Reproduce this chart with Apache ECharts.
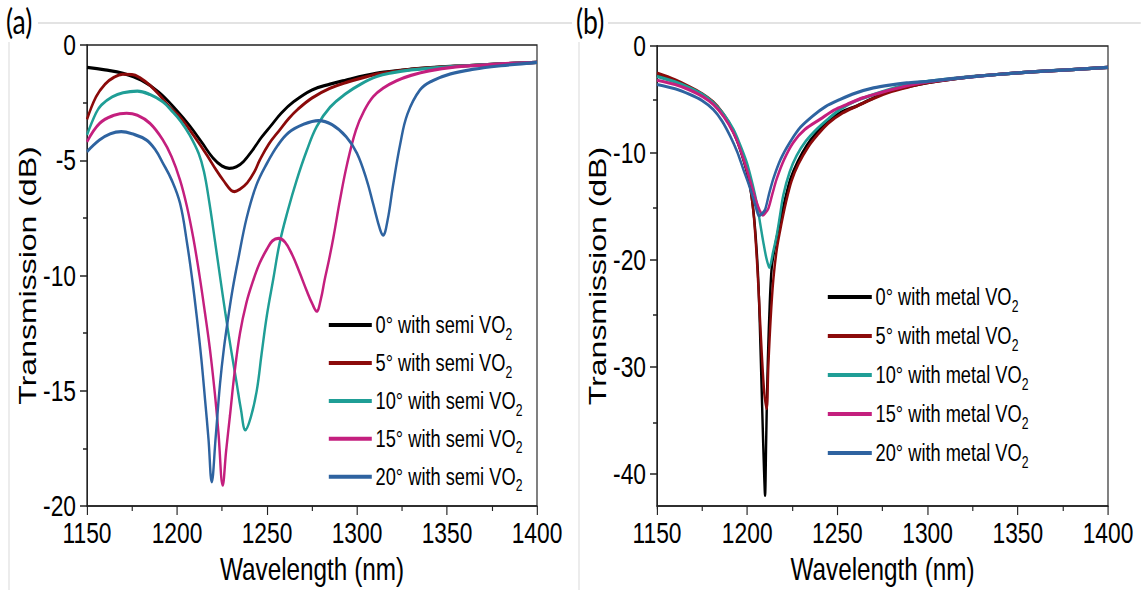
<!DOCTYPE html>
<html>
<head>
<meta charset="utf-8">
<script src="https://cdn.jsdelivr.net/npm/echarts@6/dist/echarts.min.js"></script>
<style>
html,body{margin:0;padding:0;background:#fff;overflow:hidden;}
#wrap{width:1141px;height:590px;overflow:hidden;position:relative;}
#c{position:absolute;left:0;top:0;height:590px;transform-origin:0 0;}
</style>
</head>
<body>
<div id="wrap"><div id="c"></div></div>
<script>
// ---- data (wavelength nm, transmission dB) ----
const xTicks = [1150, 1200, 1250, 1300, 1350, 1400];
const yTicksA = [0, -5, -10, -15, -20];
const yTicksB = [0, -10, -20, -30, -40];
const yMinorB = [-5, -15, -25, -35];

const namesA = ['0° with semi VO2', '5° with semi VO2', '10° with semi VO2', '15° with semi VO2', '20° with semi VO2'];
const namesB = ['0° with metal VO2', '5° with metal VO2', '10° with metal VO2', '15° with metal VO2', '20° with metal VO2'];

const semi0 = [[1150,-0.97],[1160,-1.08],[1170,-1.23],[1180,-1.52],[1190,-2.05],[1200,-2.85],[1207,-3.5],[1214,-4.25],[1220,-4.9],[1225,-5.25],[1229,-5.35],[1233,-5.28],[1237,-5.05],[1242,-4.56],[1247,-4.0],[1252,-3.52],[1258,-2.95],[1265,-2.45],[1275,-1.95],[1285,-1.7],[1294,-1.52],[1305,-1.32],[1315,-1.18],[1330,-1.05],[1345,-0.96],[1360,-0.9],[1380,-0.82],[1400,-0.75]];
const semi5 = [[1150,-3.23],[1155,-2.25],[1160,-1.7],[1165,-1.4],[1170,-1.27],[1175,-1.28],[1180,-1.45],[1185,-1.75],[1190,-2.15],[1196,-2.7],[1202,-3.15],[1209,-3.9],[1216,-4.7],[1222,-5.45],[1226,-5.9],[1230,-6.3],[1232,-6.36],[1235,-6.25],[1239,-5.98],[1243,-5.5],[1246,-4.99],[1251,-4.3],[1257,-3.69],[1262,-3.2],[1267,-2.8],[1275,-2.3],[1285,-1.88],[1295,-1.6],[1305,-1.38],[1313,-1.23],[1325,-1.1],[1340,-0.99],[1360,-0.9],[1380,-0.82],[1400,-0.75]];
const semi10 = [[1150,-3.9],[1155,-2.95],[1158,-2.6],[1164,-2.25],[1170,-2.07],[1178,-2.0],[1185,-2.15],[1192,-2.46],[1197,-2.85],[1202,-3.3],[1207,-3.9],[1212,-4.7],[1215,-5.5],[1218,-6.85],[1221,-8.45],[1224,-10.1],[1227,-11.7],[1230,-13.2],[1233,-14.6],[1235.5,-15.8],[1238,-16.7],[1241,-16.15],[1244.3,-15.0],[1247,-13.4],[1250,-11.7],[1253.5,-10.15],[1257,-8.6],[1261.5,-7.2],[1266.5,-5.86],[1272,-4.6],[1277.6,-3.54],[1285,-2.7],[1294,-2.1],[1302,-1.7],[1311,-1.37],[1320,-1.2],[1330,-1.08],[1345,-0.98],[1360,-0.9],[1380,-0.82],[1400,-0.75]];
const semi15 = [[1150,-4.2],[1157,-3.4],[1165,-3.05],[1172,-2.96],[1178,-3.05],[1185,-3.4],[1192,-4.1],[1197,-4.85],[1201.7,-5.86],[1205.5,-7.0],[1209,-8.35],[1212.5,-10.0],[1215.5,-11.6],[1218.3,-13.2],[1221,-15.1],[1223,-16.8],[1225.4,-19.1],[1227.3,-17.6],[1229.4,-16.1],[1232,-14.2],[1235,-12.5],[1238.5,-11.2],[1242.4,-10.2],[1246,-9.45],[1250,-8.85],[1253,-8.5],[1256.3,-8.39],[1260,-8.55],[1264,-9.1],[1268,-9.85],[1272,-10.65],[1275,-11.2],[1277.6,-11.55],[1280,-11.0],[1282,-10.2],[1284.5,-9.3],[1287,-8.3],[1290.6,-6.7],[1294.4,-5.2],[1299.4,-3.69],[1304,-2.85],[1309,-2.24],[1315,-1.85],[1322,-1.55],[1330,-1.32],[1340,-1.12],[1355,-0.95],[1370,-0.87],[1385,-0.8],[1400,-0.75]];
const semi20 = [[1150,-4.63],[1157,-4.12],[1163,-3.85],[1169,-3.76],[1175,-3.85],[1183,-4.12],[1188,-4.55],[1192,-5.1],[1197,-5.85],[1201.7,-6.87],[1205.5,-8.55],[1208.5,-10.2],[1211,-11.8],[1213.5,-13.6],[1215.6,-15.4],[1217.5,-17.1],[1219.3,-18.95],[1221.5,-17.0],[1223.9,-14.7],[1226,-13.2],[1228.5,-11.8],[1231,-10.55],[1234,-9.3],[1238.7,-7.5],[1244,-6.1],[1250,-5.13],[1256,-4.35],[1262,-3.8],[1270,-3.45],[1278.6,-3.28],[1286,-3.45],[1294,-3.98],[1300,-4.7],[1305.4,-5.86],[1309,-6.9],[1312.8,-8.0],[1314.5,-8.25],[1317,-7.6],[1320,-6.1],[1324,-4.3],[1328,-3.0],[1335,-1.95],[1342,-1.55],[1352,-1.25],[1365,-1.05],[1380,-0.9],[1400,-0.75]];

const metal0 = [[1150,-2.7],[1160,-3.3],[1168,-3.95],[1175,-4.6],[1181,-5.35],[1186,-6.3],[1190,-7.3],[1194,-8.7],[1198,-10.7],[1201,-12.6],[1203.5,-15.5],[1205.2,-19.0],[1206.3,-22.5],[1207.5,-29.0],[1208.5,-35.0],[1209.3,-39.5],[1209.9,-42.0],[1210.5,-37.0],[1211.2,-31.0],[1212.3,-25.0],[1213.6,-20.7],[1216,-18.2],[1218.5,-16.2],[1221,-14.3],[1224,-12.4],[1228,-10.8],[1233,-9.3],[1238,-8.2],[1244,-7.16],[1252,-6.2],[1260.7,-5.6],[1270,-4.85],[1279,-4.2],[1290,-3.75],[1300,-3.42],[1320,-2.95],[1340,-2.64],[1360,-2.4],[1380,-2.2],[1400,-2.0]];
const metal5 = [[1150,-2.53],[1160,-3.15],[1168,-3.8],[1175,-4.45],[1181,-5.2],[1186,-6.15],[1190,-7.2],[1194,-8.6],[1198,-10.6],[1201,-12.5],[1203.5,-15.6],[1205.2,-19.5],[1206.5,-23.5],[1208,-28.5],[1209.5,-32.5],[1210.8,-33.9],[1211.7,-30.0],[1213,-25.5],[1214.5,-21.8],[1216.5,-18.9],[1219,-16.6],[1221.5,-14.6],[1224.6,-12.6],[1228.5,-11.0],[1233.9,-9.4],[1239,-8.3],[1245,-7.2],[1253,-6.25],[1261,-5.6],[1270,-4.9],[1280,-4.25],[1290,-3.8],[1300,-3.42],[1320,-2.95],[1340,-2.64],[1360,-2.4],[1380,-2.2],[1400,-2.0]];
const metal10 = [[1150,-2.84],[1160,-3.35],[1168.3,-3.92],[1175,-4.5],[1181.2,-5.3],[1187,-6.4],[1192.3,-7.78],[1196,-9.2],[1199.7,-10.86],[1202.5,-12.6],[1205.2,-14.6],[1207.2,-16.6],[1208.9,-18.3],[1210.6,-19.8],[1212.3,-20.7],[1214.3,-19.3],[1216.4,-17.65],[1218.2,-15.8],[1220,-13.95],[1223.5,-11.8],[1227.4,-10.25],[1232.5,-8.9],[1238.5,-7.78],[1245,-6.8],[1251.4,-5.93],[1260,-5.15],[1270,-4.54],[1280,-4.0],[1288.4,-3.6],[1300,-3.3],[1325.4,-2.84],[1345,-2.58],[1362,-2.37],[1380,-2.2],[1400,-2.0]];
const metal15 = [[1150,-3.2],[1160,-3.6],[1168,-4.1],[1175,-4.7],[1181.2,-5.46],[1187,-6.6],[1192.3,-8.1],[1196,-9.6],[1199.7,-11.5],[1202.5,-13.1],[1205.2,-14.6],[1207,-15.4],[1208.6,-15.8],[1210,-15.6],[1211.7,-15.2],[1214,-13.8],[1216.4,-12.4],[1220.5,-10.6],[1225.6,-9.0],[1232,-7.8],[1240.4,-6.85],[1248,-6.0],[1255.2,-5.46],[1264,-4.85],[1273.6,-4.38],[1282,-4.0],[1292,-3.6],[1300,-3.35],[1320,-2.95],[1340,-2.64],[1360,-2.4],[1380,-2.2],[1400,-2.0]];
const metal20 = [[1150,-3.6],[1160,-4.0],[1168.3,-4.54],[1175,-5.1],[1181.2,-5.93],[1186,-7.0],[1190.5,-8.4],[1194.5,-9.9],[1197.8,-11.5],[1201,-13.0],[1203.4,-14.26],[1205,-15.2],[1206.5,-15.86],[1208,-15.7],[1209.9,-15.3],[1212,-13.9],[1214.5,-12.4],[1218.5,-10.6],[1223.7,-9.0],[1229.5,-7.6],[1236.6,-6.5],[1243.5,-5.65],[1251.4,-5.0],[1260,-4.4],[1270,-3.92],[1279,-3.65],[1288.4,-3.45],[1300,-3.3],[1320,-2.95],[1340,-2.64],[1360,-2.4],[1380,-2.2],[1400,-2.0]];

const colors = ['#000000', '#8b0a0a', '#1f9e96', '#c41f7e', '#2e63a0'];

// ---- layout (reference image is horizontally compressed; emulate with scaleX) ----
const S = 0.76;
const X = px => px / S;
const W = Math.round(1141 / S);
const el = document.getElementById('c');
el.style.width = W + 'px';
el.style.transform = 'scaleX(' + S + ')';

const FONT = "'Liberation Sans', Arial, sans-serif";
const axisColor = '#222';

function xAxisCfg(grid) {
  return {
    gridIndex: grid, type: 'value', min: 1150, max: 1400, interval: 50,
    name: 'Wavelength (nm)', nameLocation: 'middle', nameGap: 46,
    nameTextStyle: {fontSize: 32, color: '#000', fontFamily: FONT},
    axisLine: {show: true, onZero: false, lineStyle: {color: axisColor, width: 1.5}},
    axisTick: {show: true, length: 9, lineStyle: {color: axisColor, width: 1.5}},
    minorTick: {show: true, splitNumber: 2, length: 5, lineStyle: {color: axisColor, width: 1.5}},
    axisLabel: {fontSize: 30, color: '#000', fontFamily: FONT, margin: 12,
      customValues: xTicks, formatter: v => String(v)},
    splitLine: {show: false}
  };
}

const gridB = {left: X(657), top: 46, width: X(451), height: 463};
const grids = [
  {left: X(87), top: 45, width: X(450), height: 461, show: true, borderColor: axisColor, borderWidth: 1.5},
  Object.assign({show: true, borderColor: axisColor, borderWidth: 1.5}, gridB),
  Object.assign({show: false}, gridB)   // overlay grid carrying the minor ticks of panel (b)
];

const yName = {
  name: 'Transmission (dB)', nameLocation: 'middle', nameRotate: 90, nameGap: X(44),
  nameTextStyle: {fontSize: 32, color: '#000', fontFamily: FONT}
};

const yAxes = [
  Object.assign({
    gridIndex: 0, type: 'value', position: 'left', min: -20, max: 0, interval: 5,
    axisLine: {show: true, onZero: false, lineStyle: {color: axisColor, width: 1.5}},
    axisTick: {show: true, length: X(7), lineStyle: {color: axisColor, width: 1.5}},
    minorTick: {show: true, splitNumber: 2, length: X(4), lineStyle: {color: axisColor, width: 1.5}},
    axisLabel: {fontSize: 30, color: '#000', fontFamily: FONT, margin: X(11),
      customValues: yTicksA, formatter: v => String(v)},
    splitLine: {show: false}
  }, yName),
  Object.assign({
    gridIndex: 1, type: 'value', position: 'left', min: -43, max: 0,
    axisLine: {show: true, onZero: false, lineStyle: {color: axisColor, width: 1.5}},
    axisTick: {show: true, length: X(7), customValues: yTicksB, lineStyle: {color: axisColor, width: 1.5}},
    axisLabel: {fontSize: 30, color: '#000', fontFamily: FONT, margin: X(11),
      customValues: yTicksB, formatter: v => String(v)},
    splitLine: {show: false}
  }, yName),
  {
    gridIndex: 2, type: 'value', position: 'left', min: -43, max: 0,
    axisLine: {show: true, onZero: false, lineStyle: {color: axisColor, width: 1.5}},
    axisTick: {show: true, length: X(4), customValues: yMinorB, lineStyle: {color: axisColor, width: 1.5}},
    axisLabel: {show: true, customValues: yMinorB, formatter: () => ''},
    splitLine: {show: false}
  }
];

const xAxes = [xAxisCfg(0), xAxisCfg(1),
  {gridIndex: 2, type: 'value', min: 1150, max: 1400, show: false, splitLine: {show: false}}];

const seriesA = [semi0, semi5, semi10, semi15, semi20];
const seriesB = [metal0, metal5, metal10, metal15, metal20];

const series = [];
seriesA.forEach((d, i) => series.push({
  name: namesA[i], type: 'line', xAxisIndex: 0, yAxisIndex: 0, data: d,
  showSymbol: false, smooth: 0.4, color: colors[i],
  lineStyle: {width: 3.2, color: colors[i]}
}));
seriesB.forEach((d, i) => series.push({
  name: namesB[i], type: 'line', xAxisIndex: 1, yAxisIndex: 1, data: d,
  showSymbol: false, smooth: 0.3, color: colors[i],
  lineStyle: {width: 3.2, color: colors[i]}
}));

function legendCfg(names, left, top, gap, iw) {
  return {
    data: names, orient: 'vertical', left: left, top: top, itemGap: gap,
    icon: 'rect', itemWidth: iw, itemHeight: 4, selectedMode: false,
    formatter: n => n.replace(/VO2$/, 'VO{s|2}'),
    textStyle: {
      fontSize: 24, color: '#000', fontFamily: FONT, lineHeight: 28,
      rich: {s: {fontSize: 16, color: '#000', fontFamily: FONT, lineHeight: 16, padding: [18, 0, 0, 0]}}
    }
  };
}

const chart = echarts.init(el, null, {renderer: 'svg', width: W, height: 590});
chart.setOption({
  animation: false,
  backgroundColor: '#fff',
  grid: grids,
  xAxis: xAxes,
  yAxis: yAxes,
  legend: [
    legendCfg(namesA, X(325), 303, 3.95, X(43)),
    legendCfg(namesB, X(824), 275, 5.0, X(44))
  ],
  series: series,
  graphic: [
    {type: 'line', shape: {x1: X(38), y1: 23, x2: X(572), y2: 23}, style: {stroke: '#c8c8c8', lineWidth: 1.2}, silent: true},
    {type: 'line', shape: {x1: X(608), y1: 23, x2: X(1141), y2: 23}, style: {stroke: '#c8c8c8', lineWidth: 1.2}, silent: true},
    {type: 'line', shape: {x1: X(9), y1: 42, x2: X(9), y2: 590}, style: {stroke: '#d8d8d8', lineWidth: 1.3}, silent: true},
    {type: 'line', shape: {x1: X(579), y1: 42, x2: X(579), y2: 590}, style: {stroke: '#d8d8d8', lineWidth: 1.3}, silent: true},
    {type: 'text', left: X(6), top: 3, style: {text: '(a)', fontSize: 35, fill: '#000', fontFamily: "Lato, 'Open Sans', sans-serif"}},
    {type: 'text', left: X(576), top: 3, style: {text: '(b)', fontSize: 35, fill: '#000', fontFamily: "Lato, 'Open Sans', sans-serif"}}
  ]
});
</script>
</body>
</html>
